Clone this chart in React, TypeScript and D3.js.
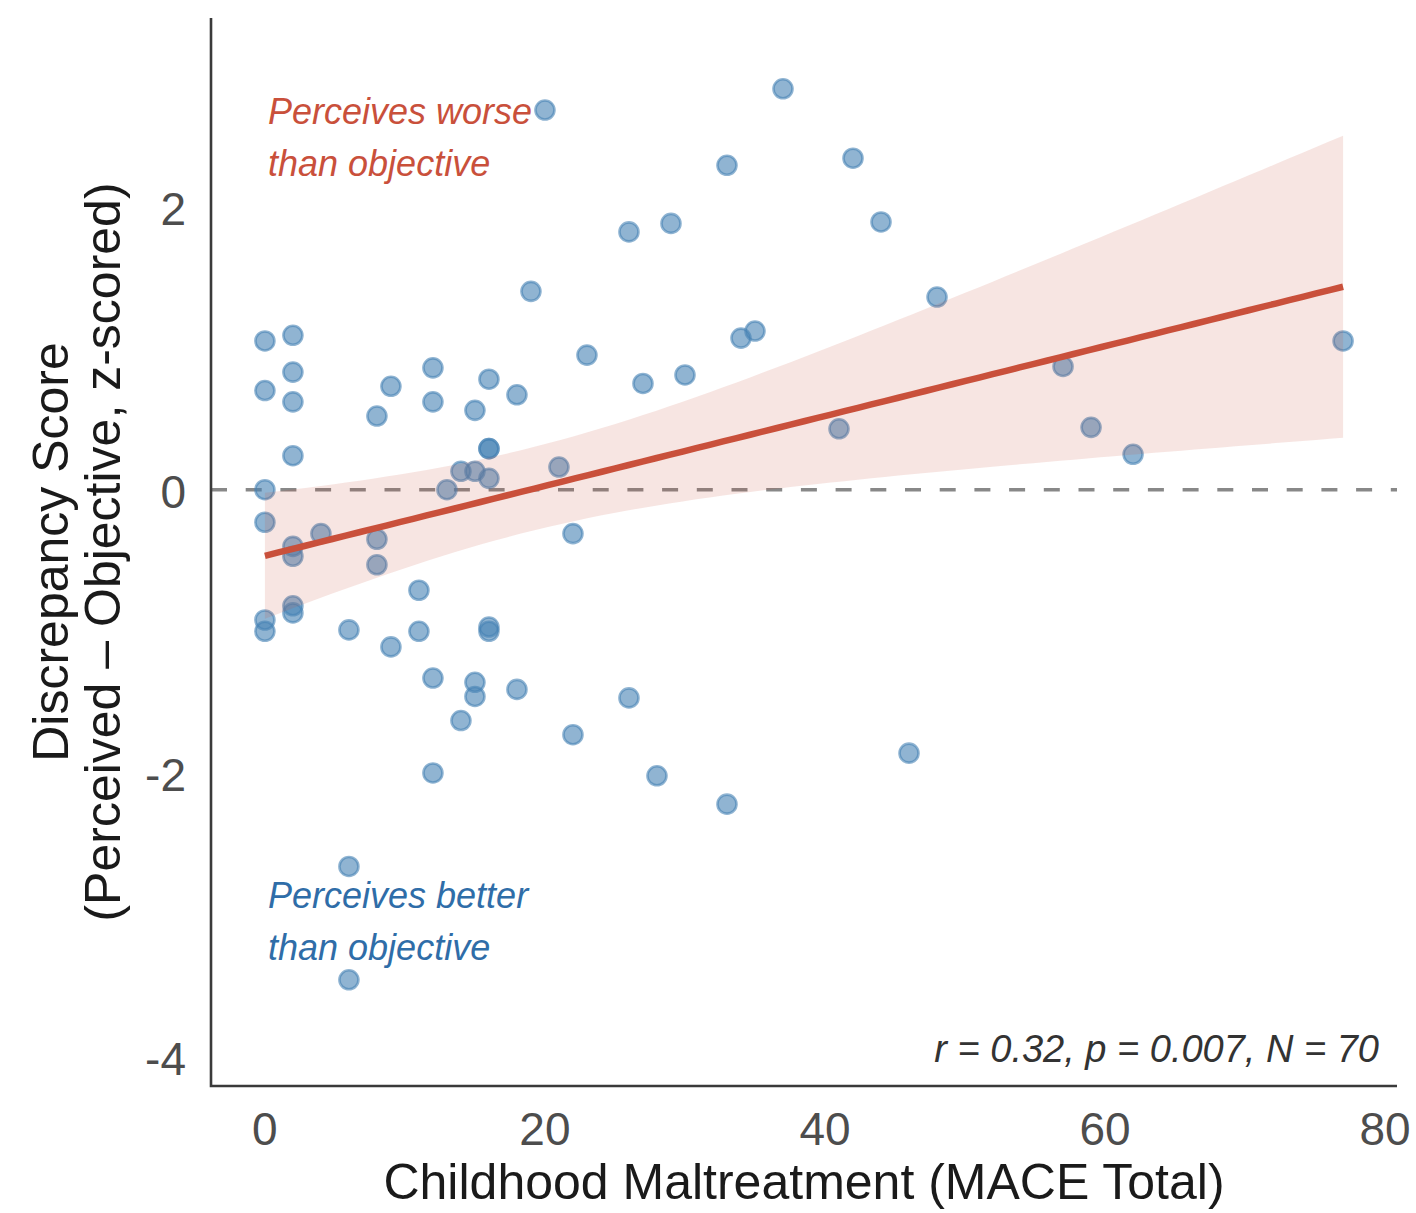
import React from "react";
import * as d3 from "d3";

// MACE total (x) and discrepancy z-score (y)
const maceTotal = [
  20, 37, 33, 42, 26, 29, 44, 19, 48, 0,
  2, 34, 35, 77, 23, 57, 12, 2, 0, 9,
  27, 30, 16, 18, 2, 12, 8, 15, 41, 59,
  62, 2, 16, 16, 14, 15, 21, 16, 13, 0,
  0, 4, 8, 22, 2, 2, 8, 11, 2, 2,
  0, 0, 6, 11, 16, 16, 9, 12, 15, 15,
  18, 26, 14, 22, 12, 28, 46, 33, 6, 6,
];
const discrepancy = [
  2.68, 2.83, 2.29, 2.34, 1.82, 1.88, 1.89, 1.40, 1.36, 1.05,
  1.09, 1.07, 1.12, 1.05, 0.95, 0.87, 0.86, 0.83, 0.70, 0.73,
  0.75, 0.81, 0.78, 0.67, 0.62, 0.62, 0.52, 0.56, 0.43, 0.44,
  0.25, 0.24, 0.29, 0.29, 0.13, 0.13, 0.16, 0.08, 0.00, 0.00,
  -0.23, -0.31, -0.35, -0.31, -0.40, -0.47, -0.53, -0.71, -0.82, -0.87,
  -0.92, -1.00, -0.99, -1.00, -0.97, -1.00, -1.11, -1.33, -1.36, -1.46,
  -1.41, -1.47, -1.63, -1.73, -2.00, -2.02, -1.86, -2.22, -2.66, -3.46,
];

const xTicks = [0, 20, 40, 60, 80];
const yTicks = [-4, -2, 0, 2];
const xDomain = [-3.85, 80.85];
const yDomain = [-4.21, 3.33];
const T_CRIT = 1.995; // t(0.975, df = 68)

const worseLines = ["Perceives worse", "than objective"];
const betterLines = ["Perceives better", "than objective"];
const statsLabel = "r = 0.32, p = 0.007, N = 70";
const xTitle = "Childhood Maltreatment (MACE Total)";
const yTitleLines = ["Discrepancy Score", "(Perceived \u2013 Objective, z-scored)"];

const RED = "#C9503B";
const BLUE = "#2F6DA8";
const POINT = "#4682B4";
const FONT = "'Liberation Sans', Arial, Helvetica, sans-serif";

export default function App() {
  const W = 1416;
  const H = 1213;
  const left = 211;
  const right = 1397;
  const top = 18;
  const bottom = 1086;

  const x = d3.scaleLinear().domain(xDomain).range([left, right]);
  const y = d3.scaleLinear().domain(yDomain).range([bottom, top]);

  const pts = maceTotal.map((v, i) => ({ x: v, y: discrepancy[i] }));
  const n = pts.length;
  const mx = d3.mean(maceTotal) as number;
  const my = d3.mean(discrepancy) as number;
  const sxx = d3.sum(maceTotal, (v) => (v - mx) ** 2);
  const sxy = d3.sum(pts, (p) => (p.x - mx) * (p.y - my));
  const slope = sxy / sxx;
  const intercept = my - slope * mx;
  const rss = d3.sum(pts, (p) => (p.y - (intercept + slope * p.x)) ** 2);
  const s = Math.sqrt(rss / (n - 2));

  const [xmin, xmax] = d3.extent(maceTotal) as [number, number];
  const grid = d3.range(0, 81).map((i) => xmin + ((xmax - xmin) * i) / 80);
  const band = grid.map((gx) => {
    const fit = intercept + slope * gx;
    const se = s * Math.sqrt(1 / n + (gx - mx) ** 2 / sxx);
    return { x: gx, fit, lo: fit - T_CRIT * se, hi: fit + T_CRIT * se };
  });

  const areaGen = d3
    .area<{ x: number; lo: number; hi: number }>()
    .x((d) => x(d.x))
    .y0((d) => y(d.lo))
    .y1((d) => y(d.hi));
  const lineGen = d3
    .line<{ x: number; fit: number }>()
    .x((d) => x(d.x))
    .y((d) => y(d.fit));

  return (
    <svg
      width={W}
      height={H}
      viewBox={`0 0 ${W} ${H}`}
      style={{ position: "absolute", left: 0, top: 0, background: "#fff" }}
      fontFamily={FONT}
    >
      <rect x={0} y={0} width={W} height={H} fill="#fff" />

      {/* reference line at 0 */}
      <line
        x1={left}
        x2={right}
        y1={y(0)}
        y2={y(0)}
        stroke="#888"
        strokeWidth={3.5}
        strokeDasharray="16 18.7"
      />

      {/* points */}
      <g>
        {pts.map((p, i) => (
          <circle
            key={i}
            cx={x(p.x)}
            cy={y(p.y)}
            r={9.5}
            fill={POINT}
            fillOpacity={0.6}
            stroke={POINT}
            strokeOpacity={0.6}
            strokeWidth={2.6}
          />
        ))}
      </g>

      {/* confidence band and fit */}
      <path d={areaGen(band) || ""} fill={RED} fillOpacity={0.15} />
      <path d={lineGen(band) || ""} fill="none" stroke={RED} strokeWidth={6.5} />

      {/* axes */}
      <path
        d={`M${left},${top}V${bottom}H${right}`}
        fill="none"
        stroke="#3a3a3a"
        strokeWidth={2.6}
      />

      {/* x tick labels */}
      {xTicks.map((t) => (
        <text
          key={t}
          x={x(t)}
          y={1145}
          textAnchor="middle"
          fontSize={46}
          fill="#4d4d4d"
        >
          {t}
        </text>
      ))}
      {/* y tick labels */}
      {yTicks.map((t) => (
        <text
          key={t}
          x={186}
          y={y(t)}
          dy="0.4em"
          textAnchor="end"
          fontSize={46}
          fill="#4d4d4d"
        >
          {t}
        </text>
      ))}

      {/* axis titles */}
      <text
        x={(left + right) / 2}
        y={1199}
        textAnchor="middle"
        fontSize={50}
        fill="#1a1a1a"
      >
        {xTitle}
      </text>
      {yTitleLines.map((ln, i) => (
        <text
          key={i}
          transform={`translate(${68 + i * 52},${(top + bottom) / 2}) rotate(-90)`}
          textAnchor="middle"
          fontSize={50}
          fill="#1a1a1a"
        >
          {ln}
        </text>
      ))}

      {/* annotations */}
      {worseLines.map((ln, i) => (
        <text
          key={"w" + i}
          x={268}
          y={124 + i * 52}
          fontSize={36}
          fontStyle="italic"
          fill={RED}
        >
          {ln}
        </text>
      ))}
      {betterLines.map((ln, i) => (
        <text
          key={"b" + i}
          x={268}
          y={908 + i * 52}
          fontSize={36}
          fontStyle="italic"
          fill={BLUE}
        >
          {ln}
        </text>
      ))}
      <text
        x={1379}
        y={1062}
        textAnchor="end"
        fontSize={38}
        fontStyle="italic"
        fill="#333"
      >
        {statsLabel}
      </text>
    </svg>
  );
}
